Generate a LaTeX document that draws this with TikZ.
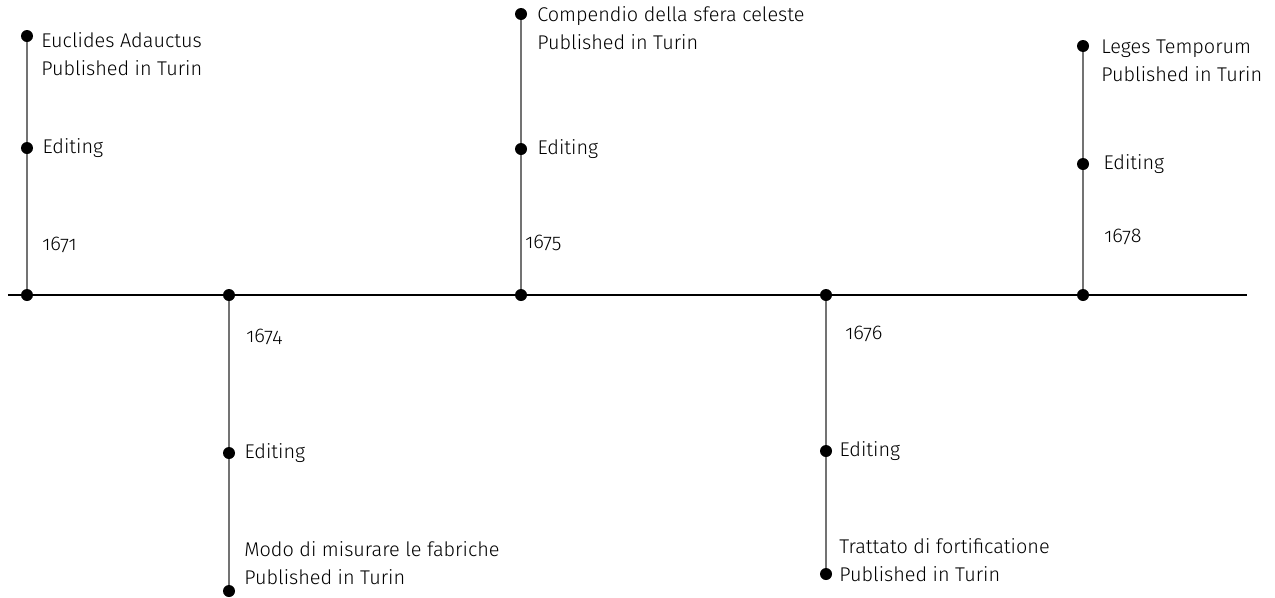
\documentclass[tikz,border=0pt]{standalone}
\usepackage{fontspec}
\setmainfont{Fira Sans}[UprightFont=* Light, BoldFont=* Medium, RawFeature={+onum}]
\usetikzlibrary{positioning}

\tikzset{
  event/.style={circle, fill=black, inner sep=0pt, minimum size=0.24cm},
  stem/.style={draw=black!55, line width=0.8pt},
  axis/.style={draw=black, line width=0.8pt},
  label/.style={inner sep=0pt, anchor=west, align=left, font=\fontsize{11.3}{16}\selectfont}
}

\begin{document}
\begin{tikzpicture}
	  \useasboundingbox (-0.54,-6.04) rectangle (24.96,5.9);
	  % time axis
	  \coordinate (axL) at (-0.38,0);
	  \coordinate (axR) at (24.4,0);
	  \draw[axis] (axL) -- (axR);
	  % years on the axis
	  \node[event] (y1671) at (0,0) {};
	  \node[event] (y1674) at (4.04,0) {};
	  \node[event] (y1675) at (9.88,0) {};
	  \node[event] (y1676) at (15.98,0) {};
	  \node[event] (y1678) at (21.12,0) {};
	  % events above and below
	  \node[event] (ed1671) at (0,2.94) {};
	  \node[event] (pub1671) at (0,5.18) {};
	  \node[event] (ed1675) at (9.88,2.92) {};
	  \node[event] (pub1675) at (9.88,5.62) {};
	  \node[event] (ed1678) at (21.12,2.62) {};
	  \node[event] (pub1678) at (21.12,4.98) {};
	  \node[event] (ed1674) at (4.04,-3.16) {};
	  \node[event] (pub1674) at (4.04,-5.92) {};
	  \node[event] (ed1676) at (15.98,-3.12) {};
	  \node[event] (pub1676) at (15.98,-5.58) {};
	  \path[stem]
	  (y1671) -- (ed1671) -- (pub1671)
	  (y1675) -- (ed1675) -- (pub1675)
	  (y1678) -- (ed1678) -- (pub1678)
	  (y1674) -- (ed1674) -- (pub1674)
	  (y1676) -- (ed1676) -- (pub1676);
	  % labels
	  \node[label] (n1671) at (0.3,1.0) {1671};
	  \node[label] (n1675) at (9.96,1.04) {1675};
	  \node[label] (n1678) at (21.54,1.16) {1678};
	  \node[label] (n1674) at (4.38,-0.84) {1674};
	  \node[label] (n1676) at (16.36,-0.78) {1676};
	  \node[label, right=0.18cm of ed1671] (e1671) {Editing};
	  \node[label, right=0.2cm of ed1675] (e1675) {Editing};
	  \node[label, right=0.28cm of ed1678] (e1678) {Editing};
	  \node[label, right=0.18cm of ed1674] (e1674) {Editing};
	  \node[label, right=0.14cm of ed1676] (e1676) {Editing};
	  \node[label] (t1671) at (0.28,4.82) {Euclides Adauctus\\Published in Turin};
	  \node[label] (t1675) at (10.2,5.34) {Compendio della sfera celeste\\Published in Turin};
	  \node[label] (t1678) at (21.48,4.69) {Leges Temporum\\Published in Turin};
	  \node[label] (t1674) at (4.34,-5.36) {Modo di misurare le fabriche\\Published in Turin};
	  \node[label] (t1676) at (16.24,-5.3) {Trattato di fortificatione\\Published in Turin};
\end{tikzpicture}
\end{document}
